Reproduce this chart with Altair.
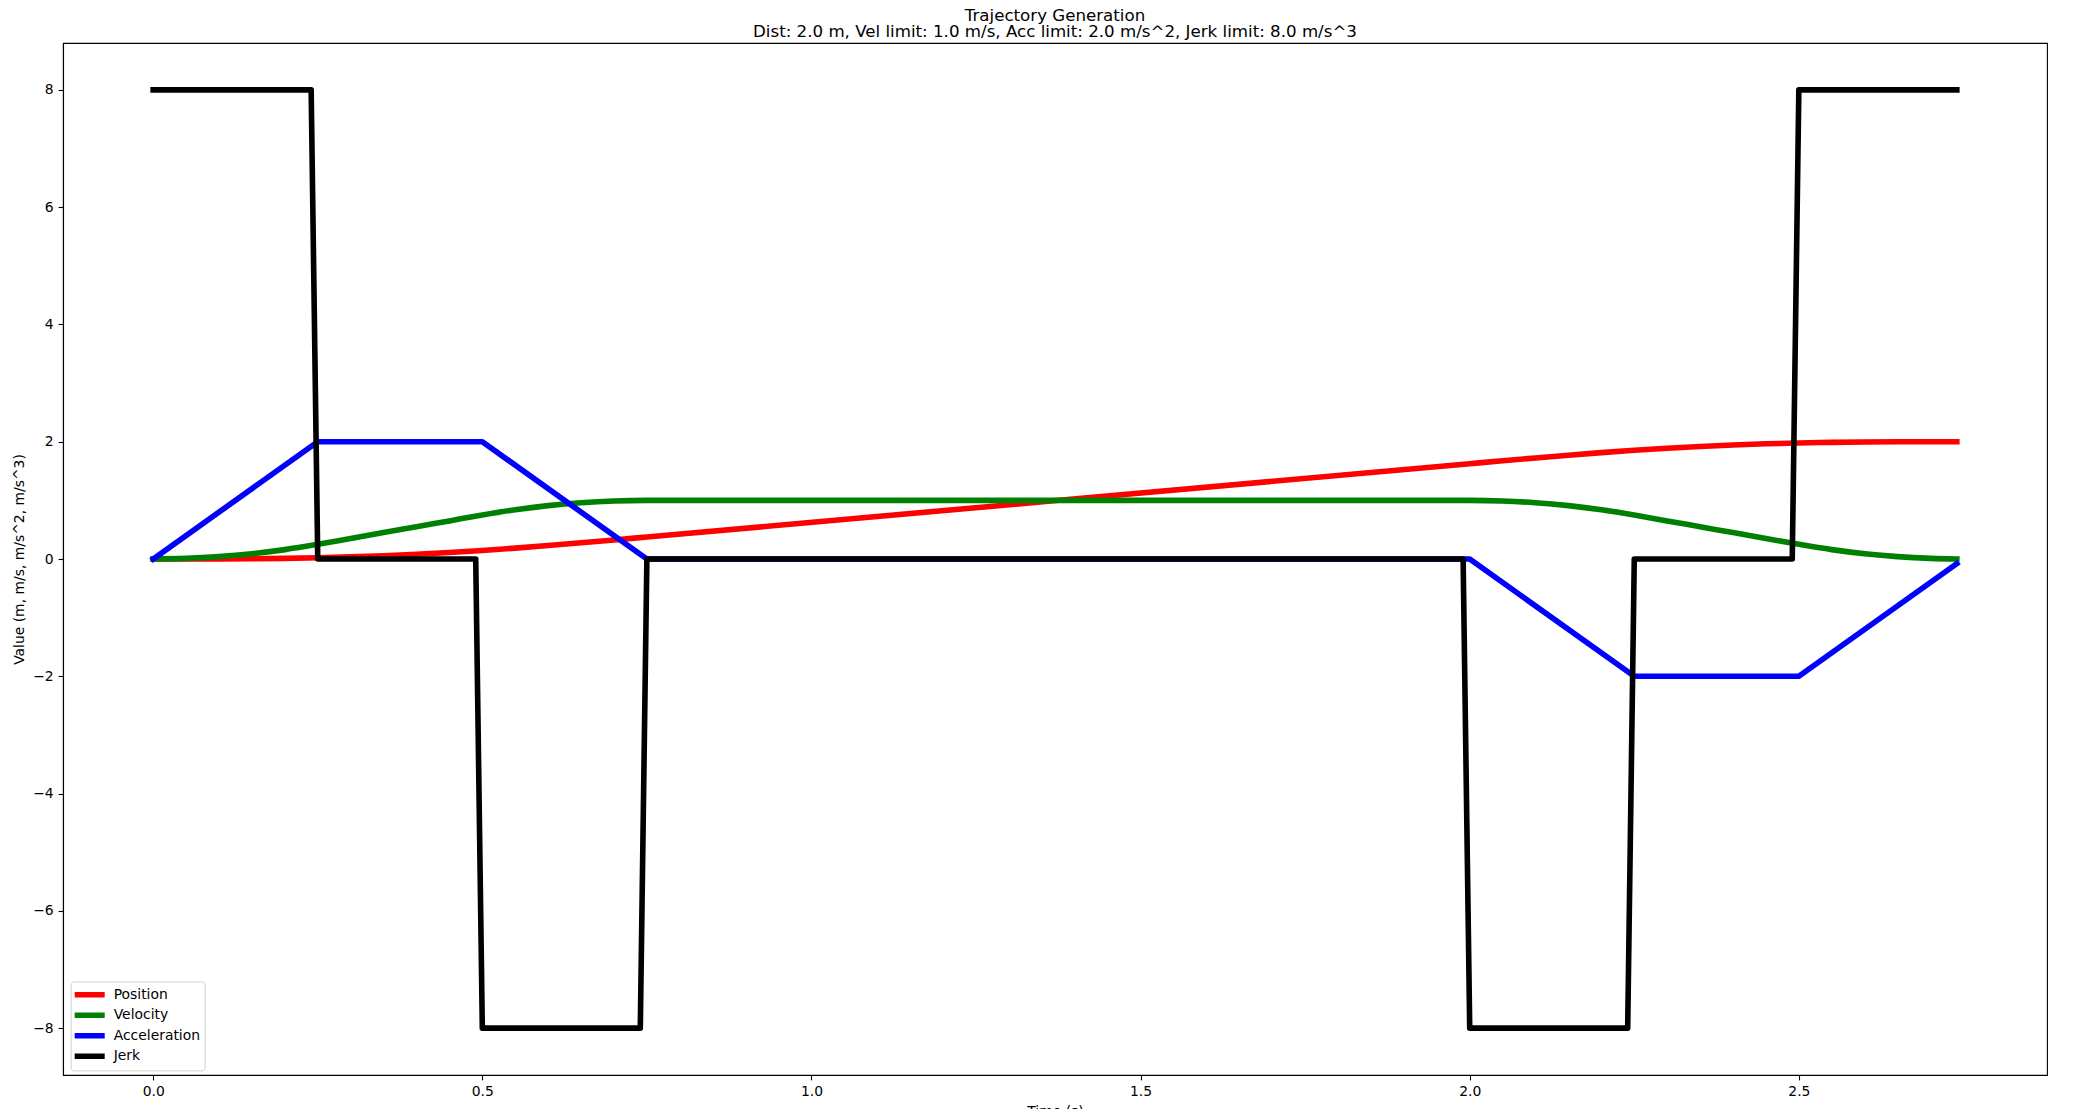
import altair as alt
import pandas as pd

# ---- data ----
series_names = ["Position", "Velocity", "Acceleration", "Jerk"]
series_colors = ["red", "green", "blue", "black"]

t_pv = [0.0, 0.05, 0.10, 0.15, 0.20, 0.25, 0.30, 0.35, 0.40, 0.45, 0.50,
        0.55, 0.60, 0.65, 0.70, 0.75, 2.00, 2.05, 2.10, 2.15, 2.20, 2.25,
        2.30, 2.35, 2.40, 2.45, 2.50, 2.55, 2.60, 2.65, 2.70, 2.74]
position = [0.0, 0.0002, 0.0013, 0.0045, 0.0107, 0.0208, 0.0358, 0.0558, 0.0808,
            0.1108, 0.1458, 0.1857, 0.2295, 0.2763, 0.3252, 0.375, 1.625, 1.6748,
            1.7237, 1.7705, 1.8143, 1.8542, 1.8892, 1.9192, 1.9442, 1.9642, 1.9792,
            1.9893, 1.9955, 1.9987, 1.9998, 2.0]
velocity = [0.0, 0.01, 0.04, 0.09, 0.16, 0.25, 0.35, 0.45, 0.55, 0.65, 0.75,
            0.84, 0.91, 0.96, 0.99, 1.0, 1.0, 0.99, 0.96, 0.91, 0.84, 0.75,
            0.65, 0.55, 0.45, 0.35, 0.25, 0.16, 0.09, 0.04, 0.01, 0.0]

t_acc = [0.0, 0.25, 0.50, 0.75, 2.00, 2.25, 2.50, 2.74]
acceleration = [0.0, 2.0, 2.0, 0.0, 0.0, -2.0, -2.0, -0.08]

t_jerk = [0.0, 0.24, 0.25, 0.49, 0.50, 0.74, 0.75, 1.99, 2.00, 2.24, 2.25, 2.49, 2.50, 2.74]
jerk = [8, 8, 0, 0, -8, -8, 0, 0, -8, -8, 0, 0, 8, 8]

x_ticks = [0.0, 0.5, 1.0, 1.5, 2.0, 2.5]
y_ticks = [-8, -6, -4, -2, 0, 2, 4, 6, 8]

title_lines = ["Trajectory Generation",
               "Dist: 2.0 m, Vel limit: 1.0 m/s, Acc limit: 2.0 m/s^2, Jerk limit: 8.0 m/s^3"]

# ---- tables ----
smooth = pd.concat([
    pd.DataFrame({"t": t_pv, "v": position, "s": "Position", "o": 0}),
    pd.DataFrame({"t": t_pv, "v": velocity, "s": "Velocity", "o": 1}),
])
steps = pd.concat([
    pd.DataFrame({"t": t_acc, "v": acceleration, "s": "Acceleration", "o": 2}),
    pd.DataFrame({"t": t_jerk, "v": jerk, "s": "Jerk", "o": 3}),
])

FONT = "DejaVu Sans"

x_enc = alt.X("t:Q", title="Time (s)",
              scale=alt.Scale(domain=[-0.137, 2.877], nice=False, zero=False),
              axis=alt.Axis(values=x_ticks, format=".1f"))
y_enc = alt.Y("v:Q", title="Value (m, m/s, m/s^2, m/s^3)",
              scale=alt.Scale(domain=[-8.8, 8.8], nice=False, zero=False),
              axis=alt.Axis(values=y_ticks, format="d"))
color_enc = alt.Color("s:N", scale=alt.Scale(domain=series_names, range=series_colors),
                      legend=alt.Legend(title=None, orient="none", legendX=7.7, legendY=938.4,
                                        symbolType="stroke", symbolSize=1024,
                                        symbolStrokeWidth=5.6, clipHeight=18.6,
                                        rowPadding=1.5, padding=4, labelOffset=6,
                                        symbolOffset=-5,
                                        strokeColor="#d0d0d0", fillColor="white",
                                        cornerRadius=3, labelFontSize=13.9,
                                        labelFont=FONT, labelColor="black"))

line_style = dict(strokeWidth=5.6, strokeJoin="round", strokeCap="square")

smooth_layer = alt.Chart(smooth).mark_line(interpolate="monotone", **line_style).encode(
    x=x_enc, y=y_enc, color=color_enc, detail="s:N", order="t:Q")
step_layer = alt.Chart(steps).mark_line(interpolate="linear", **line_style).encode(
    x=x_enc, y=y_enc, color=color_enc, detail="s:N", order="t:Q")

chart = alt.layer(smooth_layer, step_layer).properties(
    width=1984, height=1032,
    title=alt.TitleParams(text=title_lines, font=FONT, fontSize=16.67, fontWeight="normal",
                          color="black", lineHeight=16.5, anchor="middle", frame="group",
                          offset=2),
    autosize=alt.AutoSizeParams(type="none"),
    padding={"left": 55, "top": 35, "right": 29, "bottom": 34},
).configure_view(
    stroke="black", strokeWidth=1.1
).configure_axis(
    grid=False, domainColor="black", domainWidth=1.1,
    tickColor="black", tickWidth=1.1, tickSize=4.9,
    labelPadding=4.9, labelFont=FONT, labelFontSize=13.9, labelColor="black",
    titleFont=FONT, titleFontSize=13.9, titleFontWeight="normal", titleColor="black",
    titlePadding=6, labelFlush=False, labelOverlap=False,
)

chart.save("out.html", embed_options={"renderer": "svg", "actions": False})
